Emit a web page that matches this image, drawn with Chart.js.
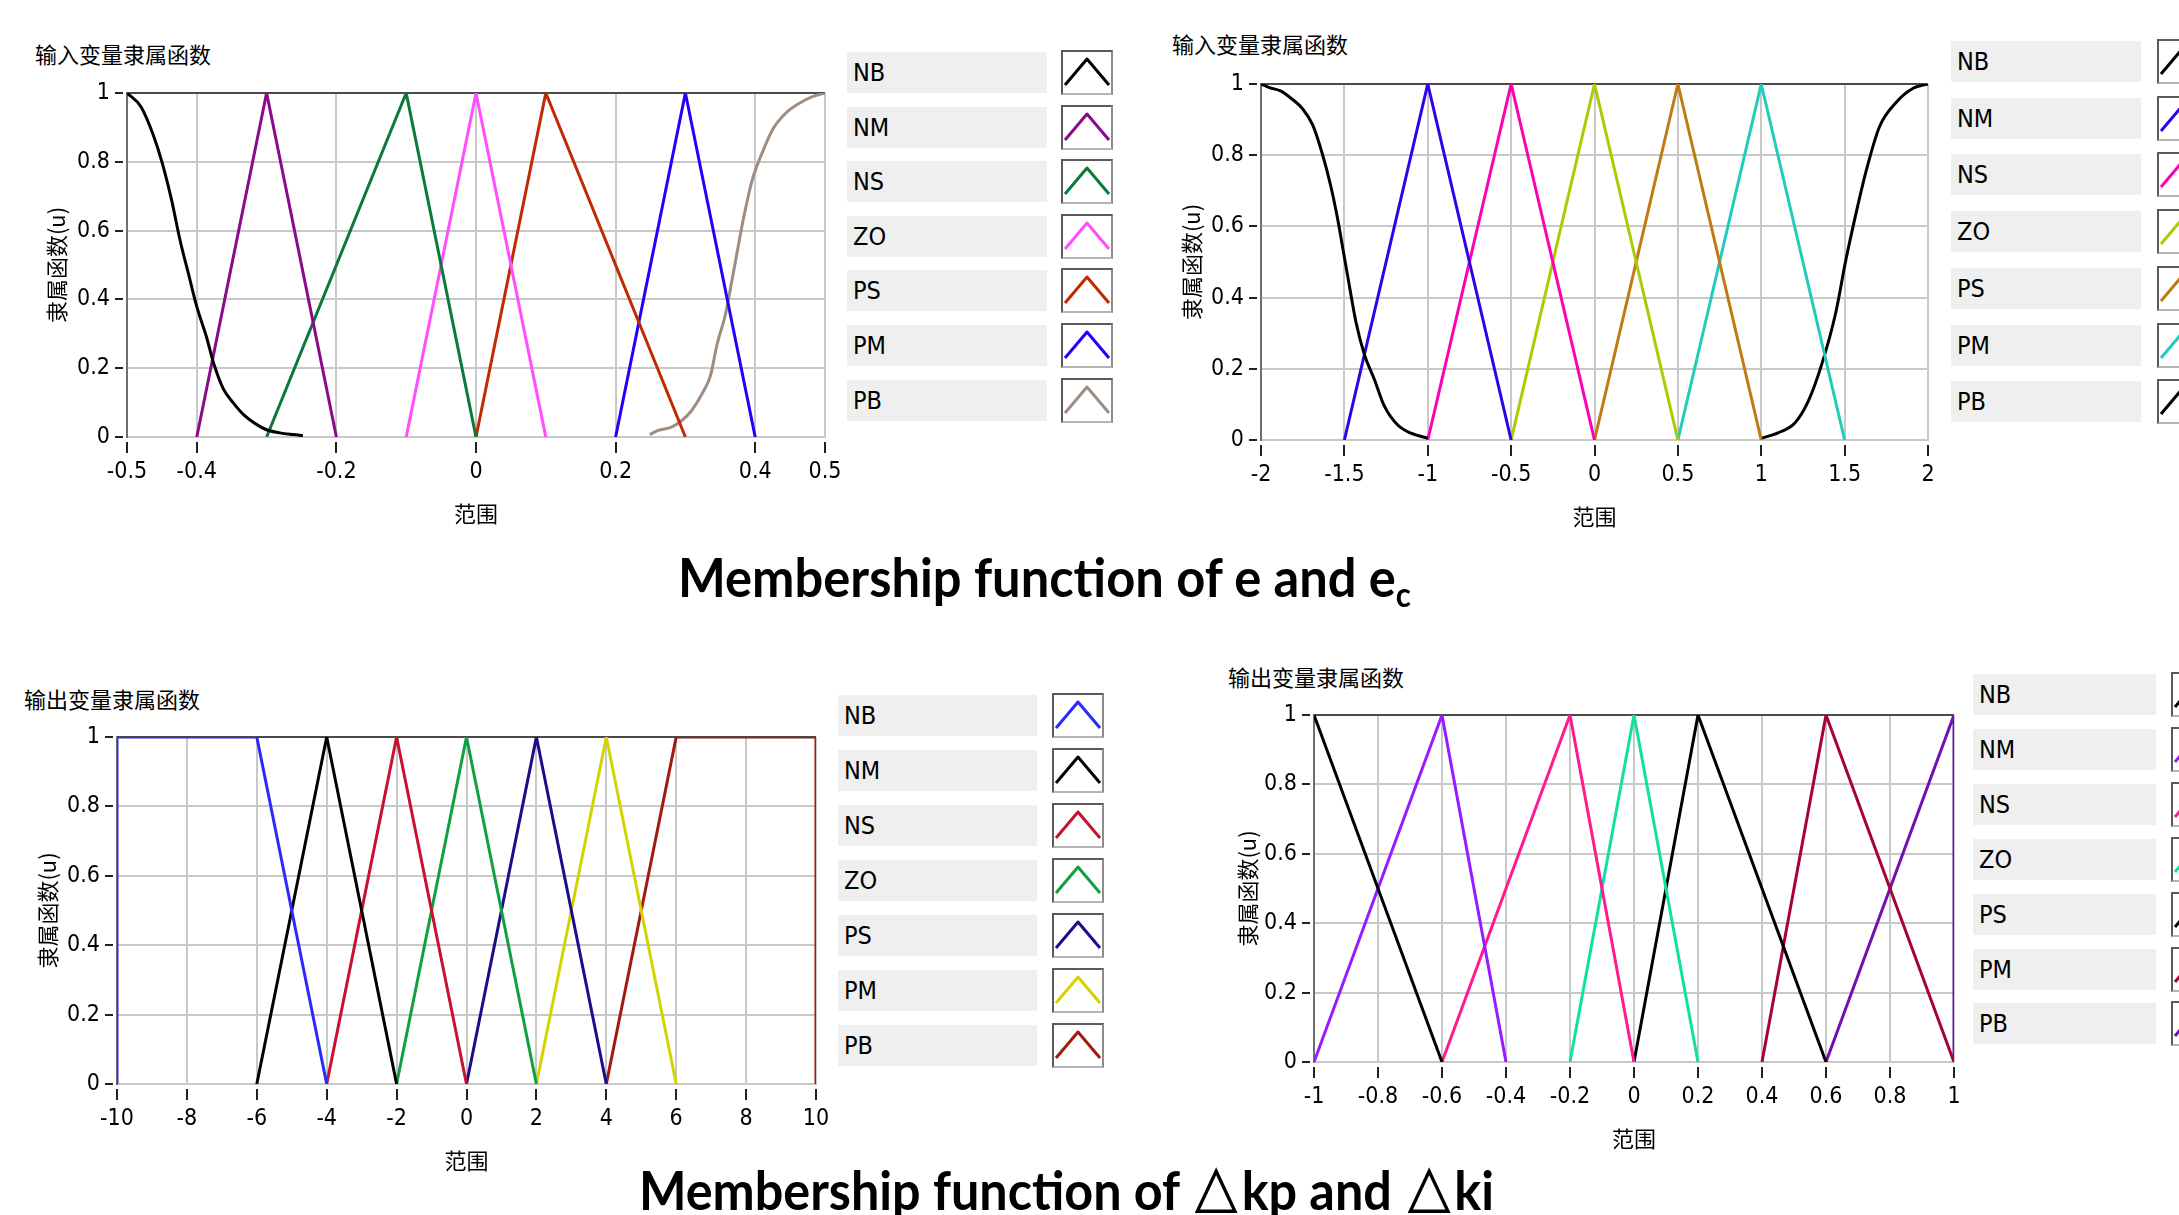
<!DOCTYPE html>
<html lang="zh">
<head>
<meta charset="utf-8">
<title>隶属函数</title>
<script src="https://cdn.jsdelivr.net/npm/chart.js@4.4.1/dist/chart.umd.min.js"></script>
<style>
  html, body { margin: 0; padding: 0; background: #fff; }
  body { position: relative; width: 2179px; height: 1215px; overflow: hidden; }
  canvas { position: absolute; }
  .txt { position: absolute; white-space: nowrap; color: #000; line-height: 1; }
  .cjk { font-family: "Noto Sans CJK SC", sans-serif; font-size: 22px; }
  .caption { font-family: Lato, "Open Sans", sans-serif; font-weight: 700; font-size: 54px; transform-origin: 0 0; }
  .caption sub { font-size: 0.62em; vertical-align: -0.3em; }
  .lg-box { position: absolute; background: #efefef; display: flex; align-items: center; padding-left: 6px;
            box-sizing: border-box; color: #000; font-size: 25px;
            font-family: "Liberation Sans Narrow", "DejaVu Sans Condensed", "Liberation Sans", sans-serif; }
  .lg-icon { position: absolute; box-sizing: border-box; background: #fff; border: 2px solid;
             border-color: #5a5a5a #8c8c8c #b4b4b4 #5a5a5a; }
  .lg-icon svg { display: block; }
</style>
</head>
<body>
<script>
// 隶属函数图 - 四个子图 (e, ec, Δkp, Δki)

const memberNames = ['NB', 'NM', 'NS', 'ZO', 'PS', 'PM', 'PB'];
const muTicks = [0, 0.2, 0.4, 0.6, 0.8, 1];

// 左上: e
const eTicks = [-0.5, -0.4, -0.2, 0, 0.2, 0.4, 0.5];
const eNB = [[-0.5, 1], [-0.48, 0.96], [-0.462, 0.876], [-0.45, 0.8], [-0.436, 0.688], [-0.424, 0.572],
             [-0.412, 0.475], [-0.4, 0.379], [-0.386, 0.29], [-0.376, 0.215], [-0.362, 0.14], [-0.348, 0.1],
             [-0.333, 0.065], [-0.314, 0.036], [-0.3, 0.021], [-0.281, 0.012], [-0.262, 0.007], [-0.248, 0.004]];
const eNM = [[-0.4, 0], [-0.3, 1], [-0.2, 0]];
const eNS = [[-0.3, 0], [-0.1, 1], [0, 0]];
const eZO = [[-0.1, 0], [0, 1], [0.1, 0]];
const ePS = [[0, 0], [0.1, 1], [0.3, 0]];
const ePM = [[0.2, 0], [0.3, 1], [0.4, 0]];
const ePB = [[0.249, 0.007], [0.261, 0.019], [0.28, 0.029], [0.295, 0.048], [0.309, 0.077], [0.324, 0.126],
             [0.336, 0.179], [0.345, 0.266], [0.358, 0.362], [0.367, 0.459], [0.374, 0.536], [0.384, 0.643],
             [0.396, 0.749], [0.408, 0.816], [0.425, 0.894], [0.444, 0.942], [0.464, 0.971], [0.483, 0.99], [0.5, 1]];
const eColors = ['#000000', '#8b0a8b', '#0a7a3a', '#ff4dff', '#c02a00', '#2200ff', '#a08c80'];

// 右上: ec
const ecTicks = [-2, -1.5, -1, -0.5, 0, 0.5, 1, 1.5, 2];
const ecNB = [[-2, 1], [-1.95, 0.99], [-1.88, 0.98], [-1.82, 0.96], [-1.75, 0.93], [-1.69, 0.885], [-1.63, 0.8],
              [-1.58, 0.71], [-1.54, 0.62], [-1.51, 0.54], [-1.48, 0.46], [-1.43, 0.33], [-1.38, 0.24],
              [-1.32, 0.17], [-1.26, 0.095], [-1.18, 0.042], [-1.1, 0.019], [-1, 0.005]];
const ecNM = [[-1.5, 0], [-1, 1], [-0.5, 0]];
const ecNS = [[-1, 0], [-0.5, 1], [0, 0]];
const ecZO = [[-0.5, 0], [0, 1], [0.5, 0]];
const ecPS = [[0, 0], [0.5, 1], [1, 0]];
const ecPM = [[0.5, 0], [1, 1], [1.5, 0]];
const ecPB = [[1, 0.005], [1.1, 0.02], [1.2, 0.047], [1.28, 0.107], [1.365, 0.216], [1.446, 0.356], [1.507, 0.505],
              [1.567, 0.634], [1.628, 0.754], [1.709, 0.88], [1.81, 0.949], [1.911, 0.988], [2, 1]];
const ecColors = ['#000000', '#3300ee', '#ff00b4', '#aacc00', '#c07a14', '#22ccbb', '#000000'];

// 左下: Δkp
const kpTicks = [-10, -8, -6, -4, -2, 0, 2, 4, 6, 8, 10];
const kpNB = [[-10, 0], [-10, 1], [-6, 1], [-4, 0]];
const kpNM = [[-6, 0], [-4, 1], [-2, 0]];
const kpNS = [[-4, 0], [-2, 1], [0, 0]];
const kpZO = [[-2, 0], [0, 1], [2, 0]];
const kpPS = [[0, 0], [2, 1], [4, 0]];
const kpPM = [[2, 0], [4, 1], [6, 0]];
const kpPB = [[4, 0], [6, 1], [10, 1], [10, 0]];
const kpColors = ['#2a2aff', '#000000', '#c81030', '#10a040', '#1c0c8c', '#d6d200', '#a01a10'];

// 右下: Δki
const kiTicks = [-1, -0.8, -0.6, -0.4, -0.2, 0, 0.2, 0.4, 0.6, 0.8, 1];
const kiNB = [[-1, 1], [-0.6, 0]];
const kiNM = [[-1, 0], [-0.6, 1], [-0.4, 0]];
const kiNS = [[-0.6, 0], [-0.2, 1], [0, 0]];
const kiZO = [[-0.2, 0], [0, 1], [0.2, 0]];
const kiPS = [[0, 0], [0.2, 1], [0.6, 0]];
const kiPM = [[0.4, 0], [0.6, 1], [1, 0]];
const kiPB = [[0.6, 0], [1, 1], [1, 0]];
const kiColors = ['#000000', '#9a1aff', '#ff1a90', '#10e0a0', '#000000', '#a8003c', '#7010b0'];

const NARROW = '"Liberation Sans Narrow", "DejaVu Sans Condensed", "Liberation Sans", sans-serif';
const CJK = '"Noto Sans CJK SC", sans-serif';
const AXIS_W = 110, AXIS_H = 110, PAD_T = 12, PAD_R = 30;

const panels = [
  { area: [127, 93, 825, 437], xRange: [-0.5, 0.5], xTicks: eTicks, colors: eColors,
    sets: [eNB, eNM, eNS, eZO, ePS, ePM, ePB], curves: [0, 6],
    title: '输入变量隶属函数', titleAt: [35, 63], yTitleGap: 70,
    legend: { boxL: 847, boxW: 200, iconL: 1061, top: 52, pitch: 54.6 } },
  { area: [1261, 84, 1928, 440], xRange: [-2, 2], xTicks: ecTicks, colors: ecColors,
    sets: [ecNB, ecNM, ecNS, ecZO, ecPS, ecPM, ecPB], curves: [0, 6],
    title: '输入变量隶属函数', titleAt: [1172, 53], yTitleGap: 69,
    legend: { boxL: 1951, boxW: 190, iconL: 2157, top: 41, pitch: 56.7 } },
  { area: [117, 737, 816, 1084], xRange: [-10, 10], xTicks: kpTicks, colors: kpColors,
    sets: [kpNB, kpNM, kpNS, kpZO, kpPS, kpPM, kpPB], curves: [],
    title: '输出变量隶属函数', titleAt: [24, 708], yTitleGap: 69,
    legend: { boxL: 838, boxW: 199, iconL: 1052, top: 695, pitch: 55 } },
  { area: [1314, 715, 1954, 1062], xRange: [-1, 1], xTicks: kiTicks, colors: kiColors,
    sets: [kiNB, kiNM, kiNS, kiZO, kiPS, kiPM, kiPB], curves: [],
    title: '输出变量隶属函数', titleAt: [1228, 686], yTitleGap: 66,
    legend: { boxL: 1973, boxW: 183, iconL: 2171, top: 674, pitch: 54.9 } }
];

// 外框上沿 + 刻度线 (与坐标轴留一点空隙)
const frameAndTicks = {
  id: 'frameAndTicks',
  beforeDatasetsDraw(chart) {
    const { ctx, chartArea: a } = chart;
    ctx.save();
    ctx.strokeStyle = '#4a4a4a';
    ctx.lineWidth = 2;
    ctx.beginPath();
    ctx.moveTo(a.left, a.top);
    ctx.lineTo(a.right, a.top);
    ctx.stroke();
    ctx.restore();
  },
  afterDraw(chart) {
    const { ctx, chartArea: a, scales: { x, y } } = chart;
    ctx.save();
    ctx.strokeStyle = '#222';
    ctx.lineWidth = 2;
    ctx.beginPath();
    x.ticks.forEach(t => {
      const px = Math.round(x.getPixelForValue(t.value));
      ctx.moveTo(px, a.bottom + 5);
      ctx.lineTo(px, a.bottom + 16);
    });
    y.ticks.forEach(t => {
      const py = Math.round(y.getPixelForValue(t.value));
      ctx.moveTo(a.left - 12, py);
      ctx.lineTo(a.left - 4, py);
    });
    ctx.stroke();
    ctx.restore();
  }
};

function placeText(el, left, baseline, targetWidth) {
  document.body.appendChild(el);
  const probe = document.createElement('span');
  probe.style.cssText = 'display:inline-block;width:0;height:0;vertical-align:baseline';
  el.appendChild(probe);
  const b = probe.getBoundingClientRect().top - el.getBoundingClientRect().top;
  if (targetWidth) {
    const w = el.getBoundingClientRect().width;
    el.style.transform = `scaleX(${targetWidth / w})`;
  }
  el.style.left = left + 'px';
  el.style.top = (baseline - b) + 'px';
}

function makeChart(p) {
  const [l, t, r, b] = p.area;
  const W = r - l + AXIS_W + PAD_R, H = b - t + PAD_T + AXIS_H;
  const cv = document.createElement('canvas');
  cv.width = W; cv.height = H;
  cv.style.left = (l - AXIS_W) + 'px';
  cv.style.top = (t - PAD_T) + 'px';
  cv.style.width = W + 'px';
  cv.style.height = H + 'px';
  document.body.appendChild(cv);

  const tickFont = { family: NARROW, size: 23 };
  new Chart(cv, {
    type: 'line',
    data: {
      datasets: p.sets.map((s, i) => ({
        label: memberNames[i],
        data: s.map(([x, y]) => ({ x, y })),
        borderColor: p.colors[i],
        borderWidth: 3,
        borderJoinStyle: 'round',
        pointRadius: 0,
        fill: false,
        tension: 0,
        cubicInterpolationMode: p.curves.includes(i) ? 'monotone' : 'default'
      }))
    },
    options: {
      responsive: false,
      animation: false,
      devicePixelRatio: 1,
      layout: { padding: { left: 0, top: PAD_T, right: PAD_R, bottom: 0 } },
      plugins: { legend: { display: false }, tooltip: { enabled: false } },
      scales: {
        x: {
          type: 'linear', min: p.xRange[0], max: p.xRange[1],
          afterBuildTicks: s => { s.ticks = p.xTicks.map(v => ({ value: v })); },
          afterFit: s => { s.height = AXIS_H; s.paddingLeft = 0; s.paddingRight = 0; },
          ticks: { font: tickFont, color: '#000', padding: 21, maxRotation: 0, autoSkip: false, callback: v => String(v) },
          grid: { color: '#c8c8c8', lineWidth: 2, drawTicks: false },
          border: { color: '#c8c8c8', width: 2 },
          title: { display: true, text: '范围', color: '#000', font: { family: CJK, size: 22 }, padding: { top: 0, bottom: 20 } }
        },
        y: {
          min: 0, max: 1,
          afterBuildTicks: s => { s.ticks = muTicks.map(v => ({ value: v })); },
          afterFit: s => { s.width = AXIS_W; s.paddingTop = 0; s.paddingBottom = 0; },
          ticks: { font: tickFont, color: '#000', padding: 17, callback: v => String(v) },
          grid: { color: '#c8c8c8', lineWidth: 2, drawTicks: false },
          border: { color: '#6e6e6e', width: 2 },
          title: { display: true, text: '隶属函数(u)', color: '#000', font: { family: CJK, size: 22 },
                   padding: { top: AXIS_W - p.yTitleGap - 13.2, bottom: 0 } }
        }
      }
    },
    plugins: [frameAndTicks]
  });

  // 标题
  const ttl = document.createElement('div');
  ttl.className = 'txt cjk';
  ttl.textContent = p.title;
  placeText(ttl, p.titleAt[0], p.titleAt[1]);

  // 图例
  const lg = p.legend;
  memberNames.forEach((name, i) => {
    const top = Math.round(lg.top + i * lg.pitch);
    const box = document.createElement('div');
    box.className = 'lg-box';
    box.style.cssText = `left:${lg.boxL}px;top:${top}px;width:${lg.boxW}px;height:41px`;
    box.textContent = name;
    document.body.appendChild(box);

    const icon = document.createElement('div');
    icon.className = 'lg-icon';
    icon.style.cssText = `left:${lg.iconL}px;top:${top - 2}px;width:52px;height:45px`;
    icon.innerHTML = `<svg width="48" height="41"><polyline points="2,33 24,7 46,33" fill="none"
      stroke="${p.colors[i]}" stroke-width="3" stroke-linejoin="round"/></svg>`;
    document.body.appendChild(icon);
  });
}

panels.forEach(makeChart);

const cap1 = document.createElement('div');
cap1.className = 'txt caption';
cap1.innerHTML = 'Membership function of e and e<sub>c</sub>';
placeText(cap1, 678, 597, 733);

const cap2 = document.createElement('div');
cap2.className = 'txt caption';
cap2.textContent = 'Membership function of △kp and △ki';
placeText(cap2, 639, 1210, 855);
</script>
</body>
</html>
